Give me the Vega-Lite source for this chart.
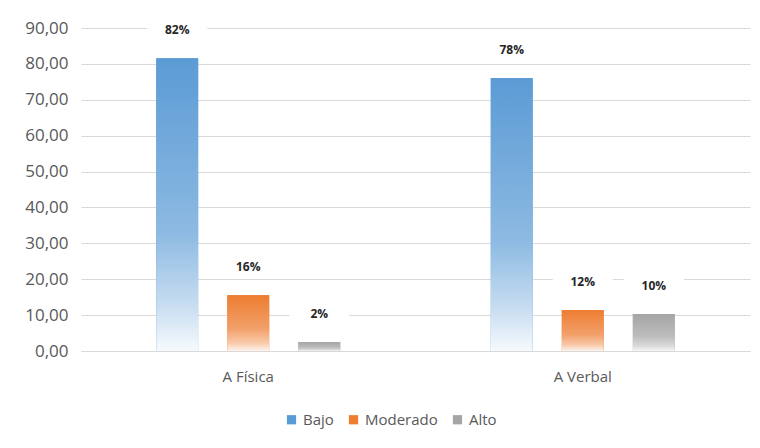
{
  "$schema": "https://vega.github.io/schema/vega-lite/v6.json",
  "width": 669,
  "height": 323,
  "autosize": {"type": "none"},
  "padding": {"left": 81, "top": 28, "right": 10, "bottom": 97},
  "background": "white",
  "data": {
    "values": [
      {"categoria": "A Física", "nivel": "Bajo", "valor": 81.6, "etiqueta": "82%"},
      {"categoria": "A Física", "nivel": "Moderado", "valor": 15.5, "etiqueta": "16%"},
      {"categoria": "A Física", "nivel": "Alto", "valor": 2.5, "etiqueta": "2%"},
      {"categoria": "A Verbal", "nivel": "Bajo", "valor": 76.1, "etiqueta": "78%"},
      {"categoria": "A Verbal", "nivel": "Moderado", "valor": 11.4, "etiqueta": "12%"},
      {"categoria": "A Verbal", "nivel": "Alto", "valor": 10.3, "etiqueta": "10%"}
    ]
  },
  "encoding": {
    "x": {
      "field": "categoria", "type": "nominal", "sort": ["A Física", "A Verbal"],
      "scale": {"paddingInner": 0.45, "paddingOuter": 0.225},
      "axis": {"title": null, "labelAngle": 0, "ticks": false, "domainColor": "#D9D9D9", "labelFont": "Open Sans", "labelFontSize": 15, "labelColor": "#595959", "labelPadding": 18}
    },
    "xOffset": {
      "field": "nivel", "type": "nominal", "sort": ["Bajo", "Moderado", "Alto"],
      "scale": {"domain": ["Bajo", "Moderado", "Alto"], "paddingInner": 0.41, "paddingOuter": 0}
    },
    "y": {
      "field": "valor", "type": "quantitative",
      "scale": {"domain": [0, 90]},
      "axis": {"title": null, "values": [0, 10, 20, 30, 40, 50, 60, 70, 80, 90], "labelExpr": "replace(format(datum.value, '.2f'), '.', ',')", "domain": false, "ticks": false, "gridColor": "#D9D9D9", "labelFont": "Open Sans", "labelFontSize": 17, "labelColor": "#595959", "labelPadding": 13}
    }
  },
  "layer": [
    {
      "mark": {"type": "bar"},
      "encoding": {
        "fill": {
          "field": "nivel", "type": "nominal", "sort": ["Bajo", "Moderado", "Alto"],
          "scale": {"domain": ["Bajo", "Moderado", "Alto"], "range": ["#5B9BD5", "#ED7D31", "#A5A5A5"]},
          "legend": {"title": null, "orient": "none", "legendX": 203, "legendY": 384, "direction": "horizontal", "symbolType": "square", "symbolSize": 85, "symbolStrokeWidth": 0, "labelFont": "Open Sans", "labelFontSize": 15, "labelColor": "#595959", "labelOffset": 4, "columnPadding": 12}
        }
      }
    },
    {
      "transform": [{"filter": "datum.nivel === 'Bajo'"}],
      "mark": {"type": "bar", "color": {"gradient": "linear", "x1": 0, "y1": 0, "x2": 0, "y2": 1, "stops": [{"offset": 0, "color": "#5B9BD5"}, {"offset": 0.6, "color": "#8DBAE2"}, {"offset": 0.85, "color": "#C9DEF1"}, {"offset": 1, "color": "#F6FAFD"}]}}
    },
    {
      "transform": [{"filter": "datum.nivel === 'Moderado'"}],
      "mark": {"type": "bar", "color": {"gradient": "linear", "x1": 0, "y1": 0, "x2": 0, "y2": 1, "stops": [{"offset": 0, "color": "#ED7D31"}, {"offset": 0.6, "color": "#F2A06A"}, {"offset": 0.85, "color": "#F8C9A8"}, {"offset": 1, "color": "#FDF3EC"}]}}
    },
    {
      "transform": [{"filter": "datum.nivel === 'Alto'"}],
      "mark": {"type": "bar", "color": {"gradient": "linear", "x1": 0, "y1": 0, "x2": 0, "y2": 1, "stops": [{"offset": 0, "color": "#A5A5A5"}, {"offset": 0.6, "color": "#BDBDBD"}, {"offset": 0.85, "color": "#D9D9D9"}, {"offset": 1, "color": "#F5F5F5"}]}}
    },
    {
      "mark": {"type": "point", "shape": "M-1,-0.33L1,-0.33L1,0.33L-1,0.33Z", "size": 3600, "filled": true, "color": "white", "opacity": 1, "yOffset": -28}
    },
    {
      "mark": {"type": "text", "dy": -28, "baseline": "middle", "fontWeight": "bold", "fontSize": 12, "font": "Open Sans", "color": "#262626"},
      "encoding": {"text": {"field": "etiqueta"}}
    }
  ],
  "config": {
    "view": {"stroke": null}
  }
}
